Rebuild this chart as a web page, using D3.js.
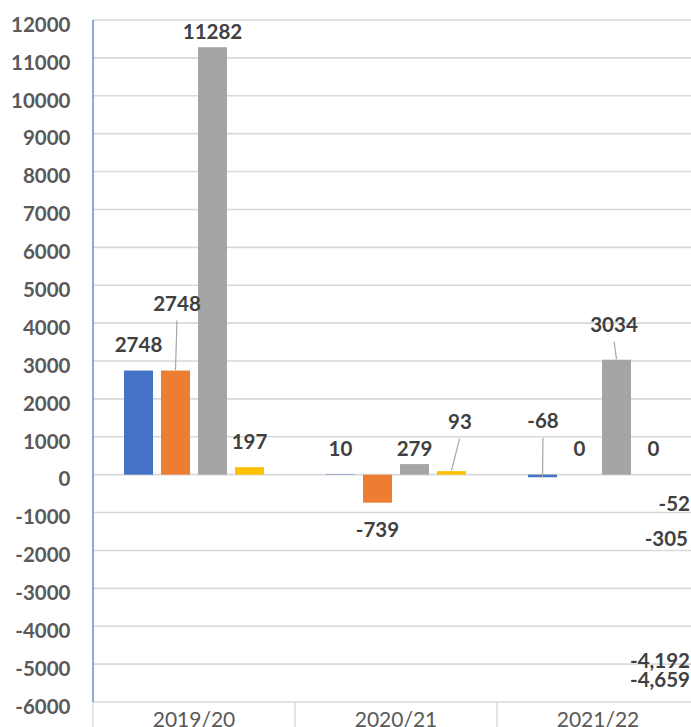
<!DOCTYPE html>
<html>
<head>
<meta charset="utf-8">
<script src="https://cdn.jsdelivr.net/npm/d3@7"></script>
<style>
  html, body { margin: 0; padding: 0; background: #fff; overflow: hidden; }
  svg { display: block; }
  text { font-family: Lato, "Open Sans", "Liberation Sans", sans-serif; }
</style>
</head>
<body>
<svg id="chart" width="691" height="727"></svg>
<script>
// Categories (school years) and the four series
const categories = ["2019/20", "2020/21", "2021/22"];
const seriesNames = ["Series 1", "Series 2", "Series 3", "Series 4"];
const series1 = [2748, 10, -68];
const series2 = [2748, -739, 0];
const series3 = [11282, 279, 3034];
const series4 = [197, 93, 0];
const seriesValues = [series1, series2, series3, series4];
const seriesColors = ["#4472c4", "#ed7d31", "#a5a5a5", "#ffc000"];

// Y axis ticks
const yTicks = [12000, 11000, 10000, 9000, 8000, 7000, 6000, 5000, 4000, 3000, 2000,
  1000, 0, -1000, -2000, -3000, -4000, -5000, -6000];

// Labels of the next period, whose bars fall beyond the right edge
const overflowValues = [-52, -305, -4192, -4659];

// Plain hyphen-minus, as the spreadsheet prints it
const hy = f => v => f(v).replace("\u2212", "-");
const fmtInt = hy(d3.format("d"));
const fmtThousands = hy(d3.format(","));
const overflowFormat = [fmtInt, fmtInt, fmtThousands, fmtThousands];

const W = 691, H = 727;
const svg = d3.select("#chart");

// Plot geometry
const plotLeft = 93, plotTop = 20, plotBottom = 702;
const catWidth = 202;

const y = d3.scaleLinear().domain([-6000, 12000]).range([plotBottom, plotTop]);
const x = d3.scaleBand()
  .domain(categories)
  .range([plotLeft, plotLeft + catWidth * categories.length])
  .padding(0);
const xs = d3.scaleBand()
  .domain(d3.range(seriesNames.length))
  .range([31, 171])
  .paddingInner(8 / 37)
  .paddingOuter(0);

// Horizontal gridlines (running off the right edge)
svg.append("g")
  .selectAll("line")
  .data(yTicks)
  .join("line")
  .attr("x1", plotLeft)
  .attr("x2", W + 20)
  .attr("y1", d => y(d))
  .attr("y2", d => y(d))
  .attr("stroke", "#d9d9d9")
  .attr("stroke-width", 1.6);

// Y axis tick labels
const yAxis = d3.axisLeft(y).tickValues(yTicks).tickSize(0).tickPadding(0).tickFormat(fmtInt);
const gy = svg.append("g").attr("transform", `translate(${plotLeft - 22.5},0)`).call(yAxis);
gy.select(".domain").remove();
gy.selectAll("text")
  .attr("dy", "0.55em")
  .attr("font-size", 20.5)
  .attr("font-weight", 700)
  .attr("fill", "#595959")
  .style("font-family", "Lato, 'Open Sans', sans-serif");

// Category axis: separators below the bottom line, and labels
const catEdges = categories.map(c => x(c)).concat([x(categories[categories.length - 1]) + catWidth]);
svg.append("g")
  .selectAll("line")
  .data(catEdges)
  .join("line")
  .attr("x1", d => d).attr("x2", d => d)
  .attr("y1", plotBottom).attr("y2", H)
  .attr("stroke", "#d9d9d9")
  .attr("stroke-width", 1.4);

svg.append("g")
  .selectAll("text")
  .data(categories)
  .join("text")
  .attr("x", d => x(d) + catWidth / 2)
  .attr("y", 719)
  .attr("dy", "0.36em")
  .attr("text-anchor", "middle")
  .attr("font-size", 21)
  .attr("fill", "#595959")
  .text(d => d);

// Vertical value axis line
svg.append("line")
  .attr("x1", plotLeft).attr("x2", plotLeft)
  .attr("y1", plotTop).attr("y2", plotBottom)
  .attr("stroke", "#4472c4")
  .attr("stroke-width", 1.2);

// Bars
const barData = [];
seriesValues.forEach((vals, s) => {
  vals.forEach((v, c) => {
    barData.push({ s, c, v, cat: categories[c] });
  });
});

svg.append("g")
  .selectAll("rect")
  .data(barData)
  .join("rect")
  .attr("x", d => x(d.cat) + xs(d.s))
  .attr("width", xs.bandwidth())
  .attr("y", d => y(Math.max(0, d.v)))
  .attr("height", d => Math.abs(y(d.v) - y(0)))
  .attr("fill", d => seriesColors[d.s]);

// Data labels: placed just outside the bar end, with a few moved by hand
const labelMoves = {
  "1-0": { dx: 1.5, dy: -41, leader: true },
  "2-0": { dx: 0, dy: 10, leader: false },
  "2-1": { dx: 0, dy: 11, leader: false },
  "3-1": { dx: 8.5, dy: -23.5, leader: true },
  "0-2": { dx: 0.5, dy: -83, leader: true },
  "2-2": { dx: -2.5, dy: -9, leader: true }
};

const labels = barData.map(d => {
  const cx = x(d.cat) + xs(d.s) + xs.bandwidth() / 2;
  const end = y(d.v);
  const baseY = d.v < 0 ? end + 26.5 : end - 26;
  const m = labelMoves[`${d.s}-${d.c}`] || { dx: 0, dy: 0, leader: false };
  return { ...d, cx, end, lx: cx + m.dx, ly: baseY + m.dy, leader: m.leader };
});

// Leader lines from moved labels back to their bars
svg.append("g")
  .selectAll("line")
  .data(labels.filter(d => d.leader))
  .join("line")
  .attr("x1", d => d.lx + (d.cx - d.lx) * 0.05)
  .attr("y1", d => d.ly + 17)
  .attr("x2", d => d.cx)
  .attr("y2", d => d.end - (d.v < 0 ? -0.5 : 0.5))
  .attr("stroke", "#a6a6a6")
  .attr("stroke-width", 1.2);

svg.append("g")
  .selectAll("text")
  .data(labels)
  .join("text")
  .attr("x", d => d.lx)
  .attr("y", d => d.ly)
  .attr("dy", "0.36em")
  .attr("text-anchor", "middle")
  .attr("font-size", 20.5)
  .attr("font-weight", 700)
  .attr("fill", "#404040")
  .text(d => fmtInt(d.v));

// Overflow labels, pushed inside the right edge
const overflowMoves = [27, 52, 27, 28.5];
svg.append("g")
  .selectAll("text")
  .data(overflowValues)
  .join("text")
  .attr("x", (d, i) => W - (i === 1 ? 3 : 1))
  .attr("y", (d, i) => y(d) + overflowMoves[i])
  .attr("dy", "0.36em")
  .attr("text-anchor", "end")
  .attr("font-size", 20.5)
  .attr("font-weight", 700)
  .attr("fill", "#404040")
  .text((d, i) => overflowFormat[i](d));
</script>
</body>
</html>
